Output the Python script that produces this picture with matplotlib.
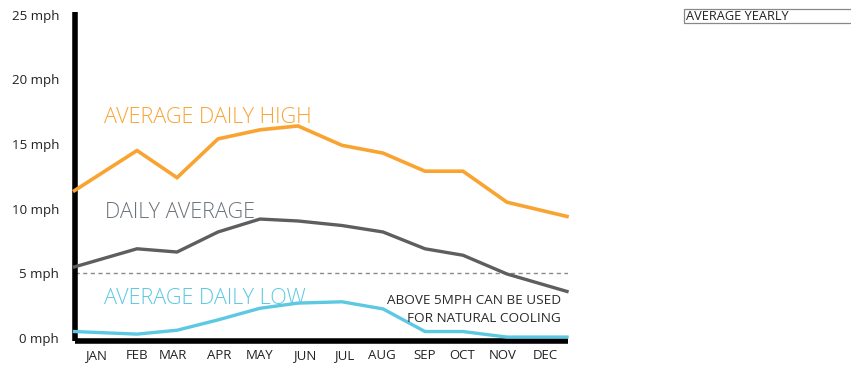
import matplotlib
matplotlib.use("Agg")
import matplotlib.pyplot as plt
from matplotlib.patches import Rectangle

plt.rcParams['font.family'] = ['Open Sans', 'DejaVu Sans']

months = ["JAN", "FEB", "MAR", "APR", "MAY", "JUN",
          "JUL", "AUG", "SEP", "OCT", "NOV", "DEC"]
# horizontal placement of each month's vertex and of its label
point_x = [74.5, 137, 177, 218, 260, 298, 342, 383, 425, 463, 507, 567]
label_x = [96, 137, 173, 219, 260, 305, 344, 382, 425, 462, 503, 545]

daily_high = [11.4, 14.5, 12.4, 15.4, 16.1, 16.4, 14.9, 14.3, 12.9, 12.9, 10.5, 9.4]
daily_avg = [5.5, 6.9, 6.65, 8.2, 9.2, 9.05, 8.7, 8.2, 6.9, 6.4, 4.95, 3.6]
daily_low = [0.5, 0.3, 0.6, 1.4, 2.3, 2.7, 2.8, 2.25, 0.5, 0.5, 0.07, 0.07]

y_ticks = [0, 5, 10, 15, 20, 25]
threshold = 5

ORANGE = "#F9A431"
GRAY = "#5E5E60"
BLUE = "#5CC8E2"

W, H = 851, 365
fig = plt.figure(figsize=(W / 100, H / 100), dpi=100)
ax = fig.add_axes([74.5 / W, 24.5 / H, (568 - 74.5) / W, (353 - 24.5) / H])
ax.set_xlim(74.5, 568)
ax.set_ylim(-2.5 / 12.93, (338 - 12) / 12.93)

ax.plot(point_x, daily_high, color=ORANGE, lw=2.6, solid_joinstyle="miter", clip_on=False, zorder=3)
ax.plot(point_x, daily_avg, color=GRAY, lw=2.4, solid_joinstyle="miter", clip_on=False, zorder=3)
ax.plot(point_x, daily_low, color=BLUE, lw=2.4, solid_joinstyle="miter", clip_on=False, zorder=3)

ax.axhline(threshold, color="#8a8a8a", lw=1.0, ls=(0, (3, 2.5)), zorder=2)

for s in ["top", "right"]:
    ax.spines[s].set_visible(False)
for s in ["left", "bottom"]:
    ax.spines[s].set_linewidth(4)
    ax.spines[s].set_color("black")
    ax.spines[s].set_capstyle("butt")

ax.set_yticks(y_ticks)
ax.set_yticklabels([f"{v} mph" for v in y_ticks])
ax.tick_params(axis="y", length=0, pad=11, labelsize=9.6, labelcolor="#222222")
ax.set_xticks([])
for lx, m in zip(label_x, months):
    ax.text(lx, -1.35, m, ha="center", va="center", fontsize=9.5, color="#222222", clip_on=False)

big = dict(fontsize=15.6, ha="left", va="center", fontweight="light")
ax.text(104, (338 - 117) / 12.93, "AVERAGE DAILY HIGH", color=ORANGE, **big)
ax.text(105, (338 - 212) / 12.93, "DAILY AVERAGE", color="#6C737A", **big)
ax.text(104, (338 - 298) / 12.93, "AVERAGE DAILY LOW", color=BLUE, **big)

ax.text(561, (338 - 300) / 12.93, "ABOVE 5MPH CAN BE USED", color="#2a2a2a", fontsize=9.7,
        ha="right", va="center")
ax.text(561, (338 - 319) / 12.93, "FOR NATURAL COOLING", color="#2a2a2a", fontsize=9.7,
        ha="right", va="center")

# legend-style header box in the upper right
fig.patches.append(Rectangle((683.5 / W, (H - 23) / H), 170 / W, 13.5 / H,
                             transform=fig.transFigure, fill=False,
                             edgecolor="#888888", lw=0.9))
fig.text(686 / W, (H - 16.5) / H, "AVERAGE YEARLY", fontsize=9.2, color="#222222",
         ha="left", va="center")

fig.savefig("out.png", dpi=100)
